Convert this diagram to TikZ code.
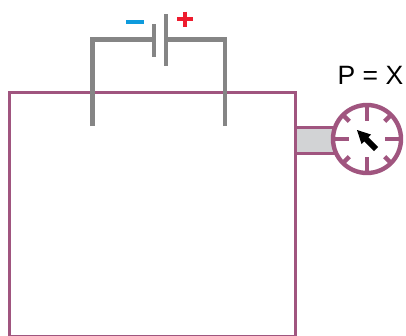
\documentclass[tikz,border=0pt]{standalone}
\usepackage{fontspec}
\setmainfont{Liberation Sans}
\usetikzlibrary{arrows.meta,calc}
\definecolor{mauve}{HTML}{A0557F}
\definecolor{wire}{HTML}{858585}
\definecolor{tube}{HTML}{D2D3D5}
\definecolor{minusblue}{HTML}{0E9BDD}
\definecolor{plusred}{HTML}{EE1C2E}
\tikzset{
  x=1pt,y=-1pt,
  vessel/.style={draw=mauve,line width=3pt},
  wireline/.style={draw=wire,line width=4.2pt,line join=miter},
  tick/.style={draw=mauve,line width=4.4pt},
}
\begin{document}
\begin{tikzpicture}
\useasboundingbox (0,0) rectangle (406,335);
% vessel (its bottom edge is cropped by the picture's border)
\begin{scope}
\clip (0,0) rectangle (406,335);
\draw[vessel] (9,336) -- (9,92) -- (295,92) -- (295,336) -- cycle;
\end{scope}
% connecting tube
\draw[vessel,fill=tube] (295,127) rectangle (334,153);
% battery wires
\coordinate (wl) at (92.5,126);
\coordinate (wr) at (225,126);
\coordinate (pn) at (154,39.5);
\coordinate (pp) at (166,39.5);
\draw[wireline] (wl) -- (92.5,39.5) -- (pn);
\draw[wireline] (wr) -- (225,39.5) -- (pp);
\draw[wireline] (154,24) -- (154,57);
\draw[wireline] (166,14) -- (166,66);
% polarity marks
\draw[minusblue,line width=3.6pt] (126,22) -- (144,22);
\draw[plusred,line width=4.2pt] (177,19) -- (193,19) (185,11.5) -- (185,27);
% gauge
\coordinate (g) at (367,139);
\draw[vessel,line width=4.4pt,fill=white] (g) circle (34);
\foreach \a in {0,90,180,270}
  \draw[tick] ($(g)+(\a:34)$) -- ($(g)+(\a:18)$);
\foreach \a in {45,135,225,315}
  \draw[tick] ($(g)+(\a:34)$) -- ($(g)+(\a:25)$);
% needle
\draw[line width=6pt,line cap=butt] (376,149) -- (364,137);
\fill (357,130) -- (371,134.5) -- (361.5,144) -- cycle;
\node[font=\fontsize{26.5}{26.5}\selectfont,inner sep=0] (lbl) at (370.5,75) {P = X};
\end{tikzpicture}
\end{document}
